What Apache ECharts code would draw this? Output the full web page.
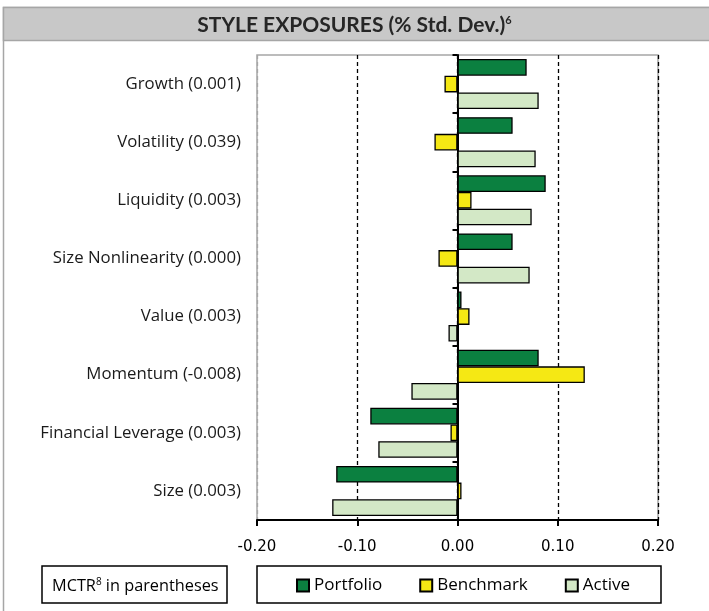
<!DOCTYPE html>
<html><head><meta charset="utf-8">
<script src="https://cdn.jsdelivr.net/npm/echarts@6/dist/echarts.min.js"></script>
<style>html,body{margin:0;padding:0;background:#fff}#c{width:709px;height:611px}</style>
</head><body><div id="c"></div>
<script>
const categories = ['Growth (0.001)','Volatility (0.039)','Liquidity (0.003)','Size Nonlinearity (0.000)','Value (0.003)','Momentum (-0.008)','Financial Leverage (0.003)','Size (0.003)'];
const portfolio = [0.069, 0.055, 0.088, 0.055, 0.004, 0.081, -0.087, -0.121];
const benchmark = [-0.013, -0.023, 0.014, -0.019, 0.012, 0.127, -0.007, 0.004];
const active = [0.081, 0.078, 0.074, 0.072, -0.009, -0.046, -0.079, -0.125];
const xTicks = [-0.2, -0.1, 0, 0.1, 0.2];
const seriesNames = ['Portfolio','Benchmark','Active'];
const colors = ['#0b8040','#f5e814','#d3e8c6'];

const chart = echarts.init(document.getElementById('c'));
const mk = (name, data, color) => ({
  name, type:'bar', data, yAxisIndex:0,
  barGap:'0%', barCategoryGap:'14%',
  itemStyle:{color, borderColor:'#000', borderWidth:1.3},
  emphasis:{disabled:true}
});
chart.setOption({
  animation:false,
  graphic:[
    {type:'rect', shape:{x:3.5,y:7.5,width:720,height:620}, style:{fill:'none', stroke:'#a6a6a6', lineWidth:1.5}, z:-1},
    {type:'rect', shape:{x:3.5,y:7.5,width:720,height:33}, style:{fill:'#c8c8c8', stroke:'#a6a6a6', lineWidth:1.5}, z:-1},
    {type:'rect', shape:{x:42,y:566,width:185,height:37}, style:{fill:'#fff', stroke:'#000', lineWidth:1.5}},
    {type:'rect', shape:{x:257,y:566,width:404,height:37}, style:{fill:'#fff', stroke:'#000', lineWidth:1.5}}
  ],
  title:[
    {text:'{t|STYLE EXPOSURES (% Std. Dev.)}{s|6}', left:'center', top:10,
     textStyle:{rich:{t:{fontFamily:'Lato', fontWeight:'bold', fontSize:21, color:'#262626'}, s:{fontFamily:'Lato', fontWeight:'bold', fontSize:11, color:'#262626', verticalAlign:'top', padding:[0,0,10,0]}}}},
    {text:'{t|MCTR}{s|8}{t| in parentheses}', left:47, top:572, z:10,
     textStyle:{rich:{t:{fontFamily:'Open Sans', fontWeight:'normal', fontSize:16.3, color:'#000'}, s:{fontFamily:'Open Sans', fontWeight:'normal', fontSize:10, color:'#000', verticalAlign:'top', padding:[0,0,9,0]}}}}
  ],
  legend:{data:seriesNames, left:291, top:572, itemGap:37, itemWidth:12, itemHeight:12, icon:'rect',
    textStyle:{fontFamily:'Open Sans', fontSize:17, color:'#000'}, z:10},
  grid:{left:257, right:51, top:55, bottom:91, show:true, borderColor:'#a6a6a6', borderWidth:1.5},
  xAxis:{type:'value', min:-0.2, max:0.2, interval:0.1,
    axisLine:{show:true, lineStyle:{color:'#000', width:2}},
    axisTick:{show:true, length:6, lineStyle:{color:'#000', width:2}},
    axisLabel:{formatter:v=>v.toFixed(2), fontFamily:'DejaVu Sans', fontSize:15, color:'#000', margin:20},
    splitLine:{show:true, lineStyle:{type:[4,3], color:['#a6a6a6','#000','#000','#000','#000'], width:1.3}}
  },
  yAxis:[
    {type:'category', inverse:true, data:categories, position:'left',
     axisLine:{show:false, onZero:false}, axisTick:{show:false},
     axisLabel:{fontFamily:'Open Sans', fontSize:16.8, color:'#1a1a1a', margin:16}},
    {type:'category', inverse:true, data:categories, position:'left',
     axisLine:{show:true, onZero:true, lineStyle:{color:'#000', width:2}},
     axisTick:{show:true, length:5, lineStyle:{color:'#000', width:2}},
     axisLabel:{show:false}}
  ],
  series:[mk('Portfolio',portfolio,colors[0]), mk('Benchmark',benchmark,colors[1]), mk('Active',active,colors[2])]
});
</script></body></html>
